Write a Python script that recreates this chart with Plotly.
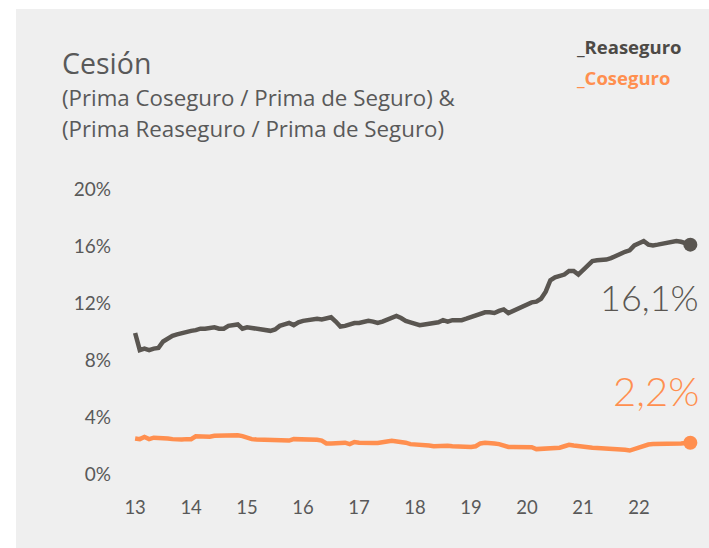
import plotly.graph_objects as go

# ---------------- data ----------------
years = list(range(2013, 2023))
tick_labels = ["13", "14", "15", "16", "17", "18", "19", "20", "21", "22"]
y_ticks = [0, 4, 8, 12, 16, 20]
y_tick_labels = ["0%", "4%", "8%", "12%", "16%", "20%"]

reaseguro = [
    9.9, 8.7, 8.8, 8.7, 8.8, 8.85, 9.3, 9.55, 9.7, 9.8, 9.9, 10.0,
    10.05, 10.1, 10.2, 10.2, 10.25, 10.3, 10.2, 10.2, 10.4, 10.45, 10.5, 10.2,
    10.3, 10.25, 10.2, 10.2, 10.15, 10.05, 10.15, 10.4, 10.5, 10.6, 10.45, 10.65,
    10.75, 10.8, 10.85, 10.9, 10.85, 10.95, 11.0, 10.7, 10.35, 10.4, 10.5, 10.6,
    10.6, 10.7, 10.75, 10.7, 10.6, 10.7, 10.85, 11.0, 11.1, 10.95, 10.75, 10.65,
    10.55, 10.45, 10.5, 10.55, 10.6, 10.65, 10.8, 10.7, 10.8, 10.8, 10.8, 10.9,
    11.0, 11.1, 11.25, 11.35, 11.35, 11.3, 11.45, 11.55, 11.3, 11.45, 11.65, 11.8,
    11.9, 12.05, 12.1, 12.3, 12.8, 13.6, 13.8, 13.9, 14.0, 14.25, 14.25, 14.0,
    14.35, 14.7, 14.95, 15.0, 15.0, 15.05, 15.15, 15.3, 15.5, 15.6, 15.7, 16.05,
    16.2, 16.35, 16.1, 16.05, 16.1, 16.15, 16.2, 16.25, 16.35, 16.3, 16.2, 16.1,
]

coseguro = [
    2.5, 2.45, 2.6, 2.45, 2.55, 2.55, 2.5, 2.5, 2.45, 2.4, 2.42, 2.45,
    2.45, 2.65, 2.62, 2.6, 2.62, 2.68, 2.7, 2.72, 2.73, 2.75, 2.72, 2.66,
    2.55, 2.45, 2.43, 2.42, 2.45, 2.43, 2.4, 2.38, 2.36, 2.35, 2.45, 2.45,
    2.45, 2.44, 2.42, 2.4, 2.35, 2.15, 2.15, 2.15, 2.15, 2.2, 2.1, 2.25,
    2.2, 2.17, 2.15, 2.17, 2.18, 2.2, 2.28, 2.33, 2.3, 2.27, 2.2, 2.1,
    2.08, 2.1, 2.08, 2.0, 1.95, 1.97, 2.0, 1.98, 1.95, 1.92, 1.9, 1.9,
    1.9, 1.95, 2.15, 2.2, 2.2, 2.15, 2.1, 2.0, 1.9, 1.9, 1.9, 1.9,
    1.9, 1.88, 1.75, 1.77, 1.8, 1.8, 1.82, 1.85, 1.95, 2.05, 2.0, 1.95,
    1.9, 1.86, 1.85, 1.83, 1.82, 1.8, 1.78, 1.75, 1.75, 1.7, 1.65, 1.75,
    1.9, 2.0, 2.07, 2.1, 2.1, 2.1, 2.12, 2.15, 2.15, 2.15, 2.18, 2.2,
]

label_reaseguro = "16,1%"
label_coseguro = "2,2%"

# monthly time axis (fractional years)
x_vals = [2013 + m / 12 for m in range(len(reaseguro))]

# ---------------- styling ----------------
W, H = 709, 548
ML, MR, MT, MB = 120, 0, 160, 58
PW, PH = W - ML - MR, H - MT - MB

DARK = "#5a5651"
ORANGE = "#ff8f4f"
TEXT = "#595959"
PANEL = "#efefef"
FONT = "Lato, 'Open Sans', sans-serif"
FONT_TITLE = "'Open Sans', sans-serif"


def px(x):
    return (x - ML) / PW


def py(y):
    return (H - MB - y) / PH


fig = go.Figure()

fig.add_trace(go.Scatter(
    x=x_vals, y=reaseguro, mode="lines",
    line=dict(color=DARK, width=4.5), hoverinfo="skip", showlegend=False))
fig.add_trace(go.Scatter(
    x=x_vals, y=coseguro, mode="lines",
    line=dict(color=ORANGE, width=4.5), hoverinfo="skip", showlegend=False))
fig.add_trace(go.Scatter(
    x=[x_vals[-1]], y=[reaseguro[-1]], mode="markers",
    marker=dict(color=DARK, size=14), hoverinfo="skip", showlegend=False))
fig.add_trace(go.Scatter(
    x=[x_vals[-1]], y=[coseguro[-1]], mode="markers",
    marker=dict(color=ORANGE, size=14), hoverinfo="skip", showlegend=False))

# background panel
fig.add_shape(type="rect", xref="paper", yref="paper",
              x0=px(16), x1=px(720), y0=py(560), y1=py(9),
              fillcolor=PANEL, line=dict(width=0), layer="below")

annotations = [
    dict(text="Cesión", x=px(60), y=py(63), xanchor="left", yanchor="middle",
         font=dict(size=28.5, color=TEXT, family=FONT_TITLE)),
    dict(text="(Prima Coseguro / Prima de Seguro) &", x=px(60), y=py(98),
         xanchor="left", yanchor="middle",
         font=dict(size=22.3, color=TEXT, family=FONT_TITLE)),
    dict(text="(Prima Reaseguro / Prima de Seguro)", x=px(60), y=py(129),
         xanchor="left", yanchor="middle",
         font=dict(size=22.3, color=TEXT, family=FONT_TITLE)),
    dict(text="<b>_Reaseguro</b>", x=px(574), y=py(47), xanchor="left",
         yanchor="middle", font=dict(size=18.5, color="#4d4a46", family=FONT_TITLE)),
    dict(text="<b>_Coseguro</b>", x=px(574), y=py(77), xanchor="left",
         yanchor="middle", font=dict(size=18.5, color=ORANGE, family=FONT_TITLE)),
    dict(text=label_reaseguro, x=x_vals[-1], y=reaseguro[-1], xref="x", yref="y",
         xanchor="right", yanchor="middle", xshift=11, yshift=-52,
         font=dict(size=36, color=DARK, family=FONT, weight=300)),
    dict(text=label_coseguro, x=x_vals[-1], y=coseguro[-1], xref="x", yref="y",
         xanchor="right", yanchor="middle", xshift=11, yshift=52,
         font=dict(size=40, color=ORANGE, family=FONT, weight=300)),
]
for a in annotations:
    a.setdefault("xref", "paper")
    a.setdefault("yref", "paper")
    a["showarrow"] = False

fig.update_layout(
    width=W, height=H,
    margin=dict(l=ML, r=MR, t=MT, b=MB),
    paper_bgcolor="white", plot_bgcolor=PANEL,
    annotations=annotations,
    xaxis=dict(range=[2012.73, 2023.25], tickvals=years, ticktext=tick_labels,
               showgrid=False, zeroline=False, showline=False, ticks="",
               ticklabelstandoff=4,
               tickfont=dict(size=18.5, color=TEXT, family=FONT), fixedrange=True),
    yaxis=dict(range=[-1.12, 22.04], tickvals=y_ticks, ticktext=y_tick_labels,
               showgrid=False, zeroline=False, showline=False, ticks="",
               ticklabelstandoff=8,
               tickfont=dict(size=19, color=TEXT, family=FONT), fixedrange=True),
)

fig.write_html("out.html", config={"displayModeBar": False},
               post_script="document.body.style.margin='0';document.body.style.overflow='hidden';")
